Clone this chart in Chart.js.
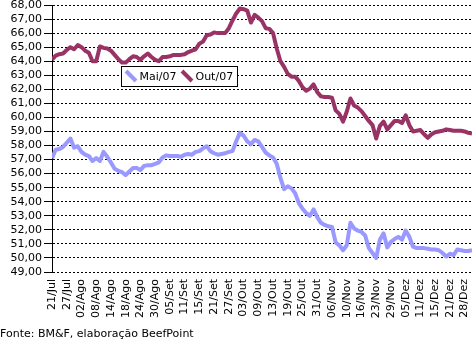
<!DOCTYPE html>
<html>
<head>
<meta charset="utf-8">
<script src="https://cdn.jsdelivr.net/npm/chart.js@4.4.1/dist/chart.umd.min.js"></script>
<style>
  html, body { margin: 0; padding: 0; background: #ffffff; }
  canvas { display: block; }
</style>
</head>
<body>
<canvas id="chart" width="474" height="340"></canvas>
<script>
// Dates shown on the x axis (one every fourth trading session)
const tickLabels = [
  '21/Jul', '27/Jul', '02/Ago', '08/Ago', '14/Ago', '18/Ago', '24/Ago', '30/Ago',
  '05/Set', '11/Set', '15/Set', '21/Set', '27/Set', '03/Out', '09/Out', '13/Out',
  '19/Out', '25/Out', '31/Out', '06/Nov', '10/Nov', '16/Nov', '23/Nov', '29/Nov',
  '05/Dez', '11/Dez', '15/Dez', '21/Dez', '28/Dez'
];
const sessionsPerTick = 4;

// Daily settlement prices, contract Mai/07
const mai07 = [
  57.10, 57.70, 57.75, 57.90, 58.20, 58.50, 57.85, 57.95, 57.55, 57.35,
  57.25, 56.90, 57.10, 56.90, 57.55, 57.20, 56.80, 56.35, 56.20, 56.10,
  55.90, 56.15, 56.40, 56.40, 56.25, 56.55, 56.60, 56.60, 56.70, 56.80,
  57.15, 57.30, 57.25, 57.25, 57.25, 57.20, 57.35, 57.40, 57.35, 57.55,
  57.60, 57.80, 57.95, 57.60, 57.45, 57.35, 57.40, 57.45, 57.55, 57.60,
  58.30, 58.90, 58.70, 58.30, 58.10, 58.40, 58.30, 57.90, 57.50, 57.30,
  57.15, 56.70, 55.70, 54.90, 55.10, 54.95, 54.60, 53.90, 53.50, 53.20,
  53.00, 53.45, 52.90, 52.50, 52.35, 52.25, 52.20, 51.10, 50.90, 50.55,
  50.90, 52.50, 52.10, 51.95, 51.85, 51.60, 50.70, 50.35, 50.00, 51.30,
  51.75, 50.75, 51.15, 51.35, 51.50, 51.30, 51.95, 51.50, 50.80, 50.70,
  50.70, 50.70, 50.65, 50.60, 50.60, 50.55, 50.35, 50.10, 50.30, 50.20,
  50.60, 50.55, 50.50, 50.50, 50.55
];

// Daily settlement prices, contract Out/07
const out07 = [
  64.10, 64.40, 64.50, 64.55, 64.80, 65.00, 64.85, 65.15, 65.00, 64.75,
  64.60, 64.00, 64.00, 65.05, 64.95, 64.90, 64.75, 64.45, 64.15, 63.90,
  63.90, 64.15, 64.35, 64.30, 64.10, 64.35, 64.55, 64.30, 64.10, 64.00,
  64.30, 64.30, 64.35, 64.45, 64.45, 64.45, 64.50, 64.65, 64.75, 64.85,
  65.25, 65.40, 65.85, 65.90, 66.05, 66.00, 66.00, 66.00, 66.35, 66.90,
  67.40, 67.75, 67.70, 67.60, 66.75, 67.30, 67.10, 66.85, 66.35, 66.30,
  66.00, 64.90, 64.00, 63.60, 63.10, 62.90, 62.90, 62.60, 62.15, 61.90,
  62.05, 62.35, 61.80, 61.50, 61.45, 61.45, 61.40, 60.50, 60.25, 59.70,
  60.40, 61.35, 60.85, 60.70, 60.45, 60.10, 59.75, 59.45, 58.50, 59.40,
  59.70, 59.15, 59.45, 59.75, 59.75, 59.60, 60.15, 59.45, 59.00, 59.05,
  59.10, 58.80, 58.55, 58.80, 58.95, 59.00, 59.05, 59.15, 59.10, 59.05,
  59.05, 59.05, 59.00, 58.90, 58.85
];

const seriesNames = ['Mai/07', 'Out/07'];
const seriesColors = ['#9999FF', '#993366'];
const sourceNote = 'Fonte: BM&F, elaboração BeefPoint';

const FONT = 'DejaVu Sans';

function toPoints(values) {
  return values.map((v, i) => ({ x: i, y: v }));
}

// Boxed legend floating over the plot, with slanted line swatches
const boxedLegend = {
  id: 'boxedLegend',
  afterDraw(chart) {
    const { ctx, chartArea } = chart;
    const left = chartArea.left + 69.5;
    const top = chartArea.top + 61.5;
    const width = 116;
    const height = 20;
    ctx.save();
    ctx.fillStyle = '#ffffff';
    ctx.fillRect(left, top, width, height);
    ctx.strokeStyle = '#000000';
    ctx.lineWidth = 1;
    ctx.strokeRect(left, top, width, height);

    ctx.font = '11px "' + FONT + '"';
    ctx.textBaseline = 'middle';
    ctx.textAlign = 'left';
    let x = left + 4;
    const midY = top + 10;
    chart.data.datasets.forEach(ds => {
      ctx.strokeStyle = ds.borderColor;
      ctx.lineWidth = 4;
      ctx.lineCap = 'butt';
      ctx.beginPath();
      ctx.moveTo(x + 0.5, midY - 5.5);
      ctx.lineTo(x + 10.5, midY + 4.5);
      ctx.stroke();
      ctx.fillStyle = '#000000';
      ctx.fillText(ds.label, x + 14, midY + 0.5);
      x += 14 + ctx.measureText(ds.label).width + 5;
    });
    ctx.restore();
  }
};

// Source line under the axis labels
const sourceLine = {
  id: 'sourceLine',
  afterDraw(chart) {
    const { ctx } = chart;
    ctx.save();
    ctx.font = '11px "' + FONT + '"';
    ctx.fillStyle = '#000000';
    ctx.textAlign = 'left';
    ctx.textBaseline = 'alphabetic';
    ctx.fillText(sourceNote, 0, 337);
    ctx.restore();
  }
};

new Chart(document.getElementById('chart'), {
  type: 'line',
  data: {
    datasets: [
      {
        label: seriesNames[0],
        data: toPoints(mai07),
        borderColor: seriesColors[0],
        backgroundColor: seriesColors[0],
        borderWidth: 4,
        pointRadius: 0,
        tension: 0,
        borderJoinStyle: 'round'
      },
      {
        label: seriesNames[1],
        data: toPoints(out07),
        borderColor: seriesColors[1],
        backgroundColor: seriesColors[1],
        borderWidth: 4,
        pointRadius: 0,
        tension: 0,
        borderJoinStyle: 'round'
      }
    ]
  },
  options: {
    responsive: false,
    animation: false,
    devicePixelRatio: 1,
    layout: { padding: { top: 5, right: 2, bottom: 0, left: 0 } },
    plugins: {
      legend: { display: false },
      tooltip: { enabled: false }
    },
    scales: {
      x: {
        type: 'linear',
        min: 0,
        max: mai07.length - 1,
        border: { display: false },
        grid: { display: false, drawTicks: false },
        ticks: {
          stepSize: sessionsPerTick,
          includeBounds: false,
          autoSkip: false,
          maxRotation: 90,
          minRotation: 90,
          padding: 7,
          color: '#000000',
          font: { family: FONT, size: 11 },
          callback: v => (v % sessionsPerTick === 0 ? (tickLabels[v / sessionsPerTick] || '') : '')
        },
        afterFit: s => { s.height = 68; s.paddingLeft = 0; s.paddingRight = 0; }
      },
      y: {
        min: 49,
        max: 68,
        border: { display: true, color: '#000000', width: 1, dash: [2, 2] },
        grid: {
          color: '#000000',
          lineWidth: 1,
          drawTicks: true,
          tickLength: 8,
          tickColor: '#000000',
          tickBorderDash: []
        },
        ticks: {
          stepSize: 1,
          autoSkip: false,
          padding: 2,
          color: '#000000',
          font: { family: FONT, size: 11 },
          callback: v => v.toFixed(2).replace('.', ',')
        },
        afterFit: s => { s.width = 52; s.paddingTop = 0; s.paddingBottom = 0; }
      }
    }
  },
  plugins: [boxedLegend, sourceLine]
});
</script>
</body>
</html>
